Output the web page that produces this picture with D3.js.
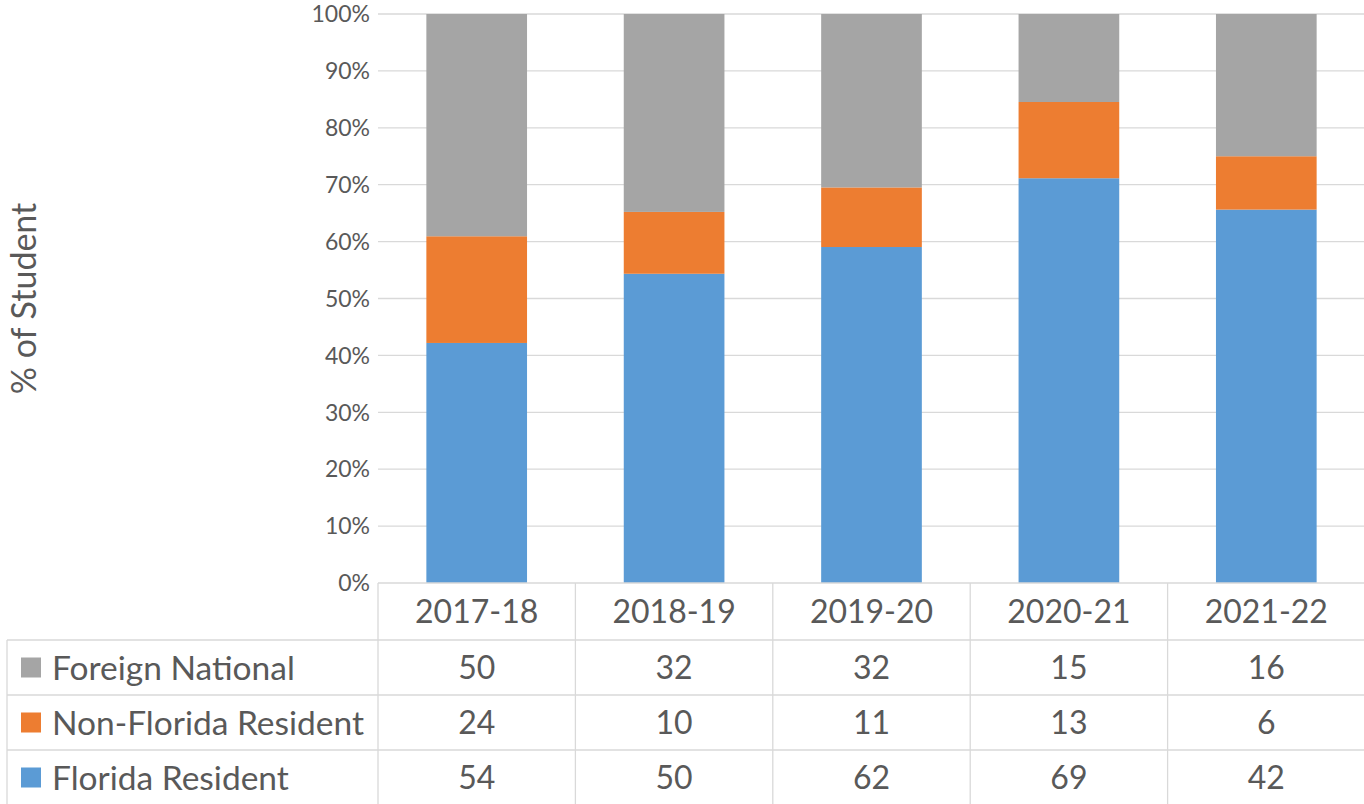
<!DOCTYPE html>
<html><head><meta charset="utf-8">
<script src="https://cdn.jsdelivr.net/npm/d3@7"></script>
<style>body{margin:0;background:#fff}svg{display:block}text{font-family:Lato,"Noto Sans",sans-serif;fill:#595959}</style>
</head><body><svg id="c" width="1364" height="804"></svg>
<script>
const years = ["2017-18","2018-19","2019-20","2020-21","2021-22"];
const seriesNames = ["Foreign National","Non-Florida Resident","Florida Resident"];
const foreignNational = [50,32,32,15,16];
const nonFloridaResident = [24,10,11,13,6];
const floridaResident = [54,50,62,69,42];
const yTicks = [0,0.1,0.2,0.3,0.4,0.5,0.6,0.7,0.8,0.9,1];
const colors = {"Foreign National":"#a5a5a5","Non-Florida Resident":"#ed7d31","Florida Resident":"#5b9bd5"};

(function(){
const svg = d3.select("#c");
const pLeft = 378, pRight = 1365, pTop = 14, pBottom = 583;
const rowH = [583, 640, 695, 750, 805];
const tableLeft = 7;
const grid = "#d9d9d9";

const x = d3.scaleBand().domain(years).range([pLeft, pRight]).paddingInner(0.49).paddingOuter(0.245);
const y = d3.scaleLinear().domain([0,1]).range([pBottom, pTop]);

const rows = years.map((yr,i)=>({year:yr,"Florida Resident":floridaResident[i],"Non-Florida Resident":nonFloridaResident[i],"Foreign National":foreignNational[i]}));
const stack = d3.stack().keys(["Florida Resident","Non-Florida Resident","Foreign National"]).offset(d3.stackOffsetExpand);
const stacked = stack(rows);

svg.append("g").selectAll("line").data(yTicks.filter(t=>t>0)).join("line")
  .attr("x1",pLeft).attr("x2",1364).attr("y1",d=>y(d)).attr("y2",d=>y(d))
  .attr("stroke",grid).attr("stroke-width",1.3);

svg.append("g").selectAll("text").data(yTicks).join("text")
  .attr("x",370).attr("y",d=>y(d)).attr("dy","0.36em").attr("text-anchor","end")
  .attr("font-size",23).text(d3.format(".0%"));

svg.append("g").selectAll("g").data(stacked).join("g").attr("fill",d=>colors[d.key])
  .selectAll("rect").data(d=>d).join("rect")
  .attr("x",d=>x(d.data.year)).attr("width",x.bandwidth())
  .attr("y",d=>y(d[1])).attr("height",d=>y(d[0])-y(d[1]));

svg.append("text").attr("transform",`translate(24,${(pTop+pBottom)/2}) rotate(-90)`)
  .attr("text-anchor","middle").attr("dy","0.36em").attr("font-size",34).text("% of Student");

const step = x.step();
const tg = svg.append("g").attr("stroke",grid).attr("stroke-width",1.3);
tg.append("line").attr("x1",pLeft).attr("x2",pRight).attr("y1",rowH[0]).attr("y2",rowH[0]);
rowH.slice(1).forEach(h=>tg.append("line").attr("x1",tableLeft).attr("x2",pRight).attr("y1",h).attr("y2",h));
d3.range(years.length+1).forEach(i=>tg.append("line").attr("x1",pLeft+i*step).attr("x2",pLeft+i*step).attr("y1",rowH[0]).attr("y2",rowH[4]));
tg.append("line").attr("x1",tableLeft).attr("x2",tableLeft).attr("y1",rowH[1]).attr("y2",rowH[4]);

svg.append("g").selectAll("text").data(years).join("text")
  .attr("x",d=>x(d)+x.bandwidth()/2).attr("y",(rowH[0]+rowH[1])/2).attr("dy","0.36em")
  .attr("text-anchor","middle").attr("font-size",32).text(d=>d);

const tableData = [foreignNational, nonFloridaResident, floridaResident];
seriesNames.forEach((name,r)=>{
  const cy = (rowH[r+1]+rowH[r+2])/2;
  svg.append("rect").attr("x",21).attr("y",cy-10).attr("width",20).attr("height",20).attr("fill",colors[name]);
  svg.append("text").attr("x",52).attr("y",cy).attr("dy","0.36em").attr("font-size",33.5).text(name);
  svg.append("g").selectAll("text").data(tableData[r]).join("text")
    .attr("x",(d,i)=>x(years[i])+x.bandwidth()/2).attr("y",cy).attr("dy","0.36em")
    .attr("text-anchor","middle").attr("font-size",32).text(d=>d);
});
})();
</script></body></html>
